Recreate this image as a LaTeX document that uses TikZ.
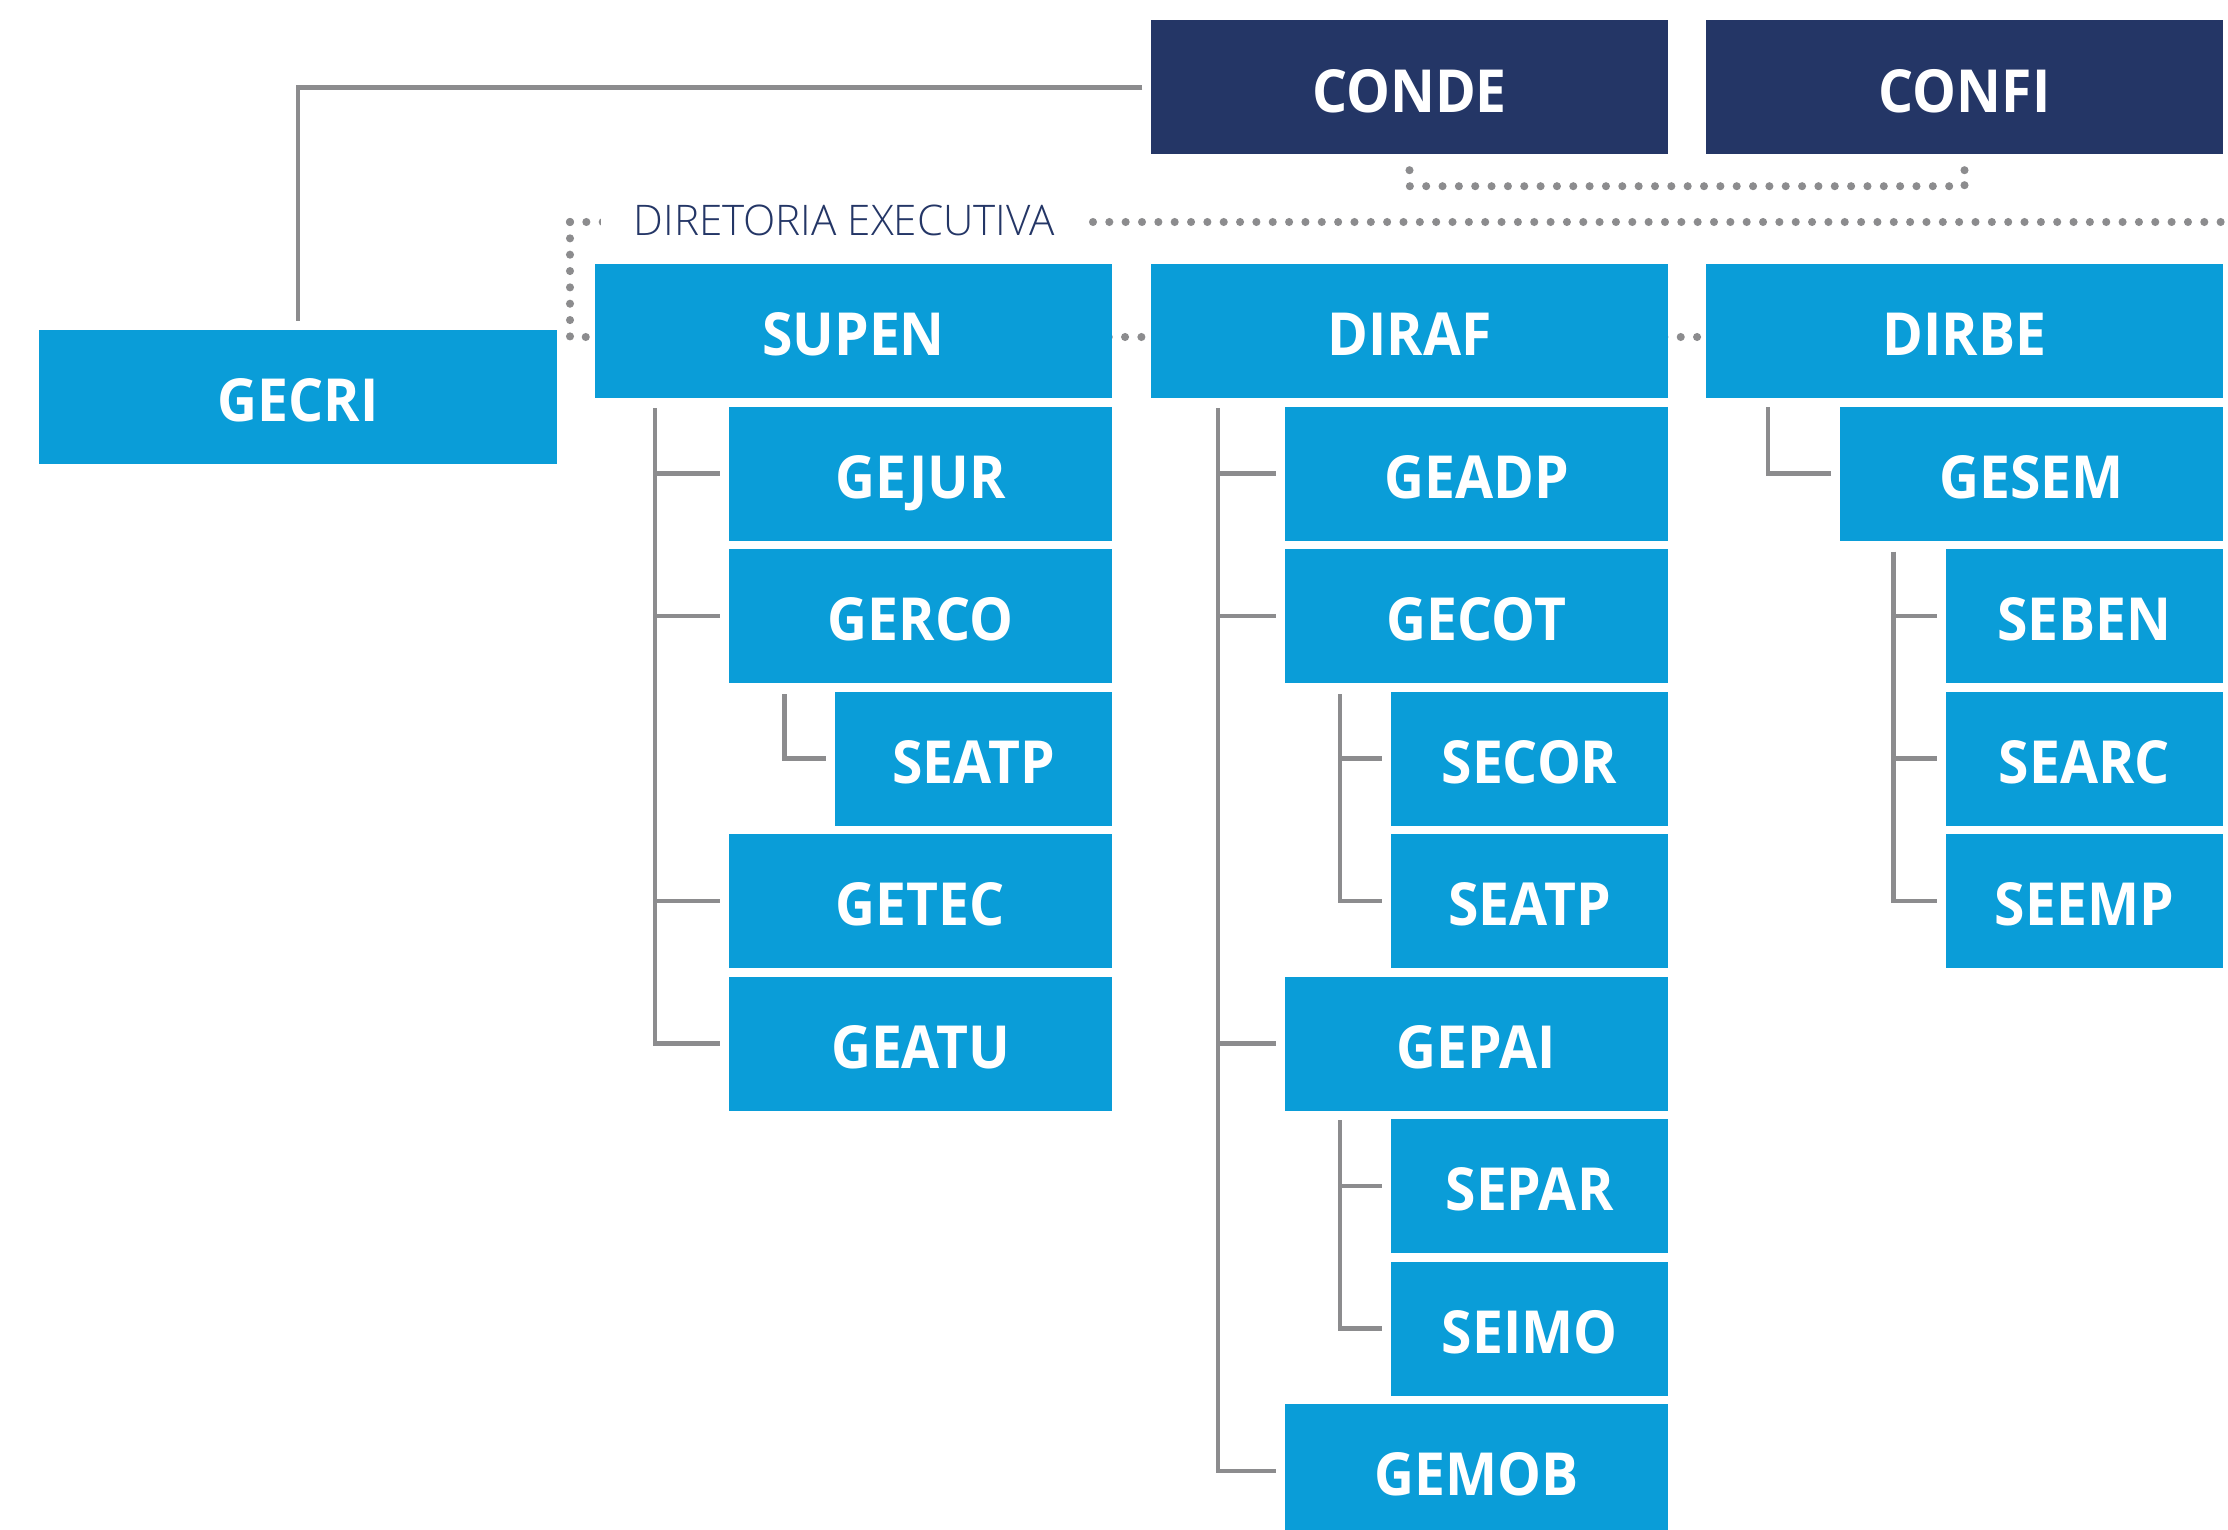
\documentclass[tikz,border=0pt]{standalone}
\usepackage{fontspec}
\setmainfont{Open Sans}[FakeStretch=0.93]
\newfontfamily\capfont{Open Sans Light}
\usepackage{tikz}
\usetikzlibrary{backgrounds}
\definecolor{boardblue}{HTML}{243666}
\definecolor{unitblue}{HTML}{0A9DD8}
\definecolor{linegray}{HTML}{8C8C8E}

\begin{document}
\begin{tikzpicture}[
		box/.style={fill=unitblue,text=white,inner sep=0pt,minimum height=1.34cm,
			text height=14.2pt,text depth=0pt,
			font=\bfseries\fontsize{16.9}{20}\selectfont},
		wide/.style={box,minimum width=5.17cm},
		mid/.style={box,minimum width=3.83cm},
		small/.style={box,minimum width=2.77cm},
		branch/.style={draw=linegray,line width=1.3pt},
		dotline/.style={draw=linegray,line width=2.3pt,line cap=round,dash pattern=on 0pt off 4.65pt}]
		\useasboundingbox (0,0) rectangle (22.28,-15.30);
		% boards
		\node[wide,fill=boardblue] (CONDE) at (14.095,-0.875) {CONDE};
		\node[wide,fill=boardblue] (CONFI) at (19.645,-0.875) {CONFI};
		\node[wide] (GECRI) at (2.98,-3.97) {GECRI};
		% diretoria executiva
		\node[fill=white,text=boardblue,inner xsep=3.3mm,inner ysep=1mm,
			font=\capfont\fontsize{12}{14}\selectfont] (DIREX) at (8.44,-2.20) {DIRETORIA EXECUTIVA};
		\node[wide] (SUPEN) at (8.535,-3.31) {SUPEN};
		\node[wide] (DIRAF) at (14.095,-3.31) {DIRAF};
		\node[wide] (DIRBE) at (19.645,-3.31) {DIRBE};
		% under SUPEN
		\node[mid] (GEJUR) at (9.205,-4.735) {GEJUR};
		\node[mid] (GERCO) at (9.205,-6.16) {GERCO};
		\node[small] (SEATP) at (9.735,-7.585) {SEATP};
		\node[mid] (GETEC) at (9.205,-9.01) {GETEC};
		\node[mid] (GEATU) at (9.205,-10.435) {GEATU};
		% under DIRAF
		\node[mid] (GEADP) at (14.765,-4.735) {GEADP};
		\node[mid] (GECOT) at (14.765,-6.16) {GECOT};
		\node[small] (SECOR) at (15.295,-7.585) {SECOR};
		\node[small] (SEATP') at (15.295,-9.01) {SEATP};
		\node[mid] (GEPAI) at (14.765,-10.435) {GEPAI};
		\node[small] (SEPAR) at (15.295,-11.86) {SEPAR};
		\node[small] (SEIMO) at (15.295,-13.285) {SEIMO};
		\node[mid] (GEMOB) at (14.765,-14.71) {GEMOB};
		% under DIRBE
		\node[mid] (GESEM) at (20.315,-4.735) {GESEM};
		\node[small] (SEBEN) at (20.845,-6.16) {SEBEN};
		\node[small] (SEARC) at (20.845,-7.585) {SEARC};
		\node[small] (SEEMP) at (20.845,-9.01) {SEEMP};
		% trunks
		\coordinate (tSUPEN) at (6.55,-4.08);
		\coordinate (tGERCO) at (7.845,-6.94);
		\coordinate (tDIRAF) at (12.18,-4.08);
		\coordinate (tGECOT) at (13.40,-6.94);
		\coordinate (tGEPAI) at (13.40,-11.20);
		\coordinate (tDIRBE) at (17.68,-4.07);
		\coordinate (tGESEM) at (18.935,-5.515);
		\coordinate (dirtop) at (5.70,-2.22);
		\coordinate (dircorner) at (5.70,-3.37);
		\coordinate (dirend) at (22.40,-2.22);
		\begin{scope}[on background layer]
			% dotted
			\draw[dotline] ([yshift=-1.5mm]CONDE.south) -- ([yshift=-3.1mm]CONDE.south) -| ([yshift=-1.5mm]CONFI.south);
			\draw[dotline] ([yshift=-1.5mm]CONFI.south) -- ([yshift=-3.1mm]CONFI.south);
			\draw[dotline] (dirtop) -- (dirend);
			\draw[dotline] (dirtop) -- (dircorner) -- (dircorner -| DIRBE.west);
			% world
			\draw[branch] ([xshift=-0.8mm]CONDE.west) -| ([yshift=0.8mm]GECRI.north);
			% SUPEN
			\draw[branch] (tSUPEN) |- ([xshift=-0.8mm]GEATU.west);
			\draw[branch] (tSUPEN |- GEJUR.west) -- ([xshift=-0.8mm]GEJUR.west);
			\draw[branch] (tSUPEN |- GERCO.west) -- ([xshift=-0.8mm]GERCO.west);
			\draw[branch] (tSUPEN |- GETEC.west) -- ([xshift=-0.8mm]GETEC.west);
			\draw[branch] (tGERCO) |- ([xshift=-0.8mm]SEATP.west);
			% DIRAF
			\draw[branch] (tDIRAF) |- ([xshift=-0.8mm]GEMOB.west);
			\draw[branch] (tDIRAF |- GEADP.west) -- ([xshift=-0.8mm]GEADP.west);
			\draw[branch] (tDIRAF |- GECOT.west) -- ([xshift=-0.8mm]GECOT.west);
			\draw[branch] (tDIRAF |- GEPAI.west) -- ([xshift=-0.8mm]GEPAI.west);
			\draw[branch] (tGECOT) |- ([xshift=-0.8mm]SEATP'.west);
			\draw[branch] (tGECOT |- SECOR.west) -- ([xshift=-0.8mm]SECOR.west);
			\draw[branch] (tGEPAI) |- ([xshift=-0.8mm]SEIMO.west);
			\draw[branch] (tGEPAI |- SEPAR.west) -- ([xshift=-0.8mm]SEPAR.west);
			% DIRBE
			\draw[branch] (tDIRBE) |- ([xshift=-0.8mm]GESEM.west);
			\draw[branch] (tGESEM) |- ([xshift=-0.8mm]SEEMP.west);
			\draw[branch] (tGESEM |- SEBEN.west) -- ([xshift=-0.8mm]SEBEN.west);
			\draw[branch] (tGESEM |- SEARC.west) -- ([xshift=-0.8mm]SEARC.west);
		\end{scope}
	\end{tikzpicture}
\end{document}
